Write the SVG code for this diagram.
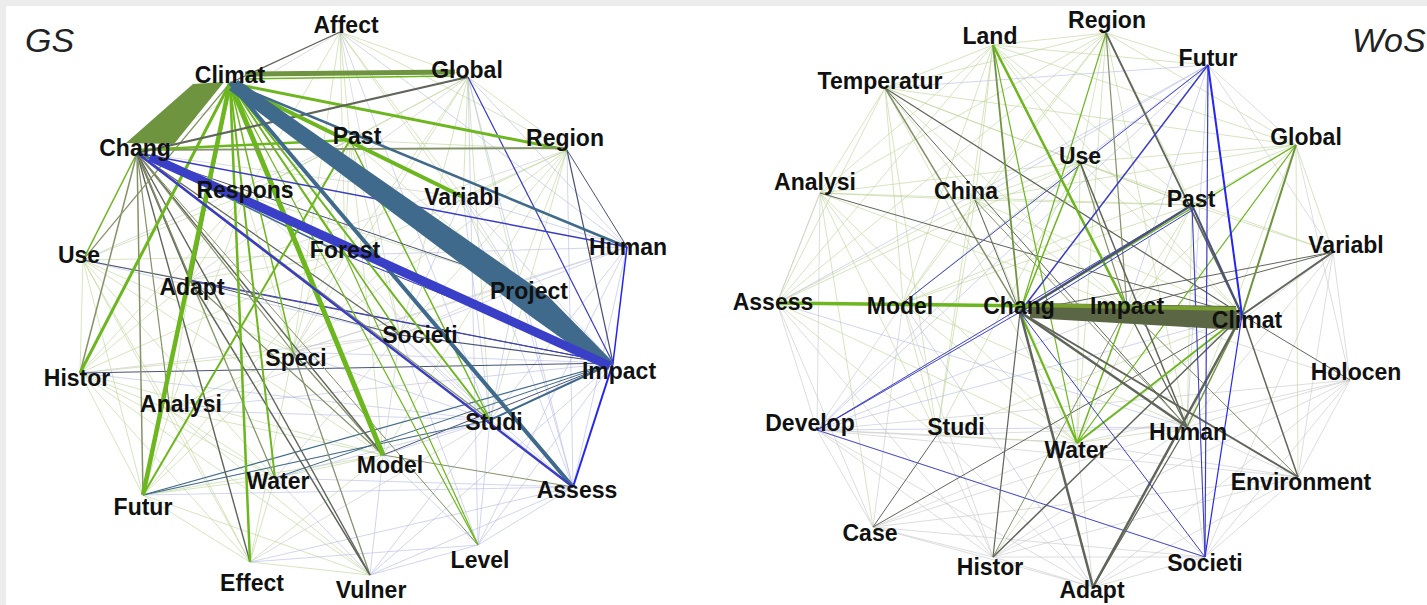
<svg xmlns="http://www.w3.org/2000/svg" width="1427" height="605" viewBox="0 0 1427 605">
<style>
.fg{stroke:#bfd69a;stroke-width:.8;fill:none;opacity:.8}
.fb{stroke:#b3b8e6;stroke-width:.8;fill:none;opacity:.75}
.fx{stroke:#c9c9c9;stroke-width:.8;fill:none;opacity:.8}
.g{stroke:#6cb61e}
.o{stroke:#6f9440}
.d{stroke:#60655a}
.go{stroke:#839268}
.s{stroke:#3f6a8c}
.b{stroke:#3a3cc2}
.bb{stroke:#2424f5}
.n{stroke:#4a5278}
.t{font-family:"Liberation Sans",Arial,sans-serif;font-weight:bold;font-size:23px;text-anchor:middle;fill:#111}
.ti{font-family:"Liberation Sans",Arial,sans-serif;font-style:italic;font-size:34px;fill:#222}
</style>
<rect width="1427" height="605" fill="#ececec"/>
<rect x="6" y="6" width="1421" height="599" fill="#fff"/>
<g id="connectors">
<g id="gs-edges">
<path class="fg" d="M340 32L468 77M340 32L350 140M340 32L463 197M340 32L345 255M340 32L567 150M340 32L517 283M340 32L293 352M340 32L245 195M468 77L567 150M468 77L463 197M468 77L350 140M468 77L345 255M468 77L517 283M468 77L400 335M468 77L490 420M468 77L293 352M468 77L245 195M567 150L463 197M567 150L517 283M567 150L400 335M567 150L490 420M567 150L345 255M567 150L350 140M567 150L293 352M567 150L383 455M350 140L345 255M350 140L245 195M350 140L400 335M350 140L517 283M350 140L293 352M350 140L383 455M245 195L345 255M245 195L83 260M245 195L80 373M245 195L190 280M245 195L293 352M245 195L170 410M245 195L517 283M83 260L80 373M83 260L190 280M83 260L170 410M83 260L143 495M83 260L293 352M83 260L275 478M83 260L345 255M80 373L170 410M80 373L143 495M80 373L190 280M80 373L275 478M80 373L293 352M80 373L250 562M80 373L383 455M170 410L143 495M170 410L275 478M170 410L293 352M170 410L250 562M170 410L383 455M170 410L370 575M143 495L275 478M143 495L250 562M143 495L370 575M143 495L383 455M143 495L293 352M250 562L275 478M250 562L370 575M250 562L383 455M250 562L293 352M190 280L293 352M190 280L345 255M190 280L275 478M190 280L170 410M383 455L275 478M383 455L293 352M83 260L250 562M80 373L370 575M143 495L345 255M83 260L383 455M80 373L345 255"/>
<path class="fb" d="M340 32L627 247M340 32L490 420M468 77L627 247M468 77L573 487M468 77L478 545M567 150L573 487M463 197L627 247M463 197L517 283M463 197L613 363M463 197L400 335M463 197L490 420M463 197L573 487M627 247L517 283M627 247L400 335M627 247L490 420M627 247L573 487M627 247L478 545M627 247L345 255M478 545L573 487M478 545L490 420M478 545L613 363M478 545L400 335M478 545L383 455M478 545L370 575M478 545L250 562M370 575L573 487M370 575L490 420M370 575L383 455M370 575L275 478M370 575L293 352M370 575L613 363M613 363L293 352M613 363L170 410M613 363L345 255M613 363L517 283M573 487L490 420M573 487L400 335M573 487L517 283M573 487L275 478M573 487L143 495M573 487L250 562M490 420L383 455M490 420L400 335M490 420L517 283M490 420L293 352M490 420L275 478M490 420L170 410M80 373L490 420M83 260L400 335"/>
<path class="fx" d="M340 32L137 153M340 32L400 335M468 77L190 280M567 150L190 280M350 140L83 260M463 197L137 153M463 197L293 352M627 247L293 352M517 283L293 352M517 283L400 335M400 335L293 352M400 335L383 455M400 335L275 478M345 255L293 352M345 255L400 335M345 255L490 420M80 373L400 335M170 410L400 335M143 495L490 420M250 562L490 420M190 280L383 455M83 260L613 363M245 195L400 335"/>
<line class="n" x1="83" y1="260" x2="613" y2="363" stroke-width="1"/>
<line class="n" x1="80" y1="373" x2="613" y2="363" stroke-width="1"/>
<line class="b" x1="190" y1="280" x2="613" y2="363" stroke-width="1"/>
<line class="b" x1="345" y1="255" x2="613" y2="363" stroke-width="1"/>
<line class="n" x1="400" y1="335" x2="613" y2="363" stroke-width="1.2"/>
<line class="s" x1="143" y1="495" x2="613" y2="363" stroke-width="1.2"/>
<line class="s" x1="275" y1="478" x2="613" y2="363" stroke-width="1"/>
<line class="n" x1="383" y1="455" x2="613" y2="363" stroke-width="1"/>
<line class="s" x1="143" y1="495" x2="490" y2="420" stroke-width="1"/>
<line class="go" x1="383" y1="455" x2="573" y2="487" stroke-width="1"/>
<line class="n" x1="190" y1="280" x2="400" y2="335" stroke-width="1"/>
<line class="n" x1="567" y1="150" x2="627" y2="247" stroke-width="1"/>
<line class="n" x1="567" y1="150" x2="613" y2="363" stroke-width="1.2"/>
<line class="b" x1="468" y1="77" x2="613" y2="363" stroke-width="1.2"/>
<line class="d" x1="190" y1="280" x2="370" y2="575" stroke-width="1.5"/>
<line class="go" x1="190" y1="280" x2="383" y2="455" stroke-width="1.2"/>
<line class="go" x1="293" y1="352" x2="370" y2="575" stroke-width="1.2"/>
<line class="go" x1="293" y1="352" x2="383" y2="455" stroke-width="1.2"/>
<line class="g" x1="345" y1="255" x2="478" y2="545" stroke-width="1.2"/>
<line class="g" x1="350" y1="140" x2="490" y2="420" stroke-width="1.5"/>
<line class="s" x1="517" y1="283" x2="613" y2="363" stroke-width="1.5"/>
<line class="d" x1="340" y1="32" x2="232" y2="82" stroke-width="1.3"/>
<line class="g" x1="137" y1="153" x2="83" y2="260" stroke-width="1.5"/>
<line class="go" x1="137" y1="153" x2="80" y2="373" stroke-width="1.5"/>
<line class="go" x1="137" y1="153" x2="143" y2="495" stroke-width="1.5"/>
<line class="d" x1="137" y1="153" x2="250" y2="562" stroke-width="1.4"/>
<line class="go" x1="137" y1="153" x2="170" y2="410" stroke-width="1.2"/>
<line class="d" x1="137" y1="153" x2="190" y2="280" stroke-width="2"/>
<line class="go" x1="137" y1="153" x2="275" y2="478" stroke-width="1.2"/>
<line class="d" x1="137" y1="153" x2="370" y2="575" stroke-width="1.4"/>
<line class="d" x1="137" y1="153" x2="383" y2="455" stroke-width="1.4"/>
<line class="go" x1="137" y1="153" x2="293" y2="352" stroke-width="1.2"/>
<line class="d" x1="137" y1="153" x2="400" y2="335" stroke-width="1.2"/>
<line class="go" x1="137" y1="153" x2="490" y2="420" stroke-width="1.2"/>
<line class="go" x1="137" y1="153" x2="478" y2="545" stroke-width="1"/>
<line class="s" x1="137" y1="153" x2="345" y2="255" stroke-width="1.5"/>
<line class="o" x1="137" y1="153" x2="245" y2="195" stroke-width="1.5"/>
<line class="n" x1="137" y1="153" x2="517" y2="283" stroke-width="1"/>
<line class="go" x1="230" y1="83" x2="83" y2="260" stroke-width="1.2"/>
<line class="g" x1="230" y1="83" x2="345" y2="255" stroke-width="1.5"/>
<line class="g" x1="230" y1="83" x2="400" y2="335" stroke-width="1.5"/>
<line class="g" x1="230" y1="83" x2="293" y2="352" stroke-width="1.5"/>
<line class="g" x1="230" y1="83" x2="478" y2="545" stroke-width="1.2"/>
<line class="g" x1="230" y1="83" x2="490" y2="420" stroke-width="2"/>
<line class="g" x1="230" y1="83" x2="275" y2="478" stroke-width="2"/>
<line class="g" x1="230" y1="83" x2="250" y2="562" stroke-width="2.5"/>
<line class="g" x1="350" y1="140" x2="143" y2="495" stroke-width="2"/>
<line class="g" x1="230" y1="83" x2="80" y2="373" stroke-width="3"/>
<line class="o" x1="230" y1="83" x2="190" y2="280" stroke-width="3"/>
<line class="g" x1="230" y1="83" x2="143" y2="495" stroke-width="4.5"/>
<line class="g" x1="230" y1="83" x2="383" y2="455" stroke-width="5"/>
<line class="g" x1="230" y1="83" x2="517" y2="283" stroke-width="3"/>
<line class="g" x1="230" y1="83" x2="567" y2="150" stroke-width="3"/>
<line class="go" x1="137" y1="150" x2="567" y2="148" stroke-width="1.8"/>
<line class="g" x1="137" y1="150" x2="350" y2="140" stroke-width="2.5"/>
<line class="d" x1="137" y1="153" x2="468" y2="77" stroke-width="2.2"/>
<line class="g" x1="230" y1="83" x2="463" y2="197" stroke-width="4"/>
<line class="s" x1="230" y1="83" x2="627" y2="247" stroke-width="2.5"/>
<line class="b" x1="137" y1="153" x2="627" y2="247" stroke-width="1.5"/>
<line class="o" x1="245" y1="74" x2="455" y2="72" stroke-width="5"/>
<line class="g" x1="245" y1="79" x2="452" y2="76" stroke-width="1.5"/>
<line class="bb" x1="627" y1="247" x2="613" y2="363" stroke-width="1.5"/>
<line class="bb" x1="613" y1="363" x2="573" y2="487" stroke-width="2"/>
<line class="s" x1="230" y1="83" x2="573" y2="487" stroke-width="4"/>
<line class="b" x1="137" y1="153" x2="573" y2="487" stroke-width="2.5"/>
<line class="s" x1="490" y1="420" x2="613" y2="363" stroke-width="2"/>
<polygon points="229,90 238,80 548,296 613,362 606,370 533,318" fill="#3f6a8c"/>
<line x1="150" y1="157" x2="610" y2="366" stroke="#3a3fc8" stroke-width="9"/>
<polygon points="193,84 224,82 174,144 126,143" fill="#6f9440"/>
</g>
<g id="wos-edges">
<path class="fg" d="M993 45L1106 33M993 45L885 88M993 45L1208 65M993 45L1080 162M993 45L975 200M993 45L820 193M993 45L1192 205M993 45L1296 145M993 45L777 303M993 45L903 303M993 45L937 435M993 45L1242 315M1106 33L885 88M1106 33L1208 65M1106 33L1080 162M1106 33L975 200M1106 33L1192 205M1106 33L1296 145M1106 33L820 193M1106 33L903 303M1106 33L777 303M1106 33L1077 443M1106 33L1187 427M885 88L820 193M885 88L975 200M885 88L1080 162M885 88L903 303M885 88L777 303M885 88L1127 308M885 88L1192 205M885 88L1077 443M885 88L937 435M885 88L1296 145M1296 145L1080 162M1296 145L1192 205M1296 145L1333 252M1296 145L1127 308M1296 145L1187 427M1296 145L903 303M1296 145L975 200M1296 145L1298 477M1080 162L975 200M1080 162L820 193M1080 162L1192 205M1080 162L903 303M1080 162L777 303M1080 162L937 435M1080 162L1077 443M1080 162L1333 252M820 193L975 200M820 193L777 303M820 193L903 303M820 193L937 435M820 193L873 527M820 193L1127 308M820 193L1192 205M820 193L1077 443M975 200L903 303M975 200L777 303M975 200L1192 205M975 200L1077 443M975 200L1127 308M975 200L937 435M1192 205L1333 252M1192 205L1127 308M1192 205L1077 443M1192 205L903 303M1192 205L1187 427M903 303L937 435M903 303L1077 443M777 303L937 435M903 303L1187 427M777 303L1077 443M1077 443L1187 427M1077 443L993 557M937 435L1077 443M1127 308L1187 427M1242 315L937 435M1242 315L903 303M1242 315L1080 162M1242 315L975 200M1242 315L1296 145"/>
<path class="fx" d="M1333 252L1350 380M1333 252L1187 427M1333 252L1298 477M1333 252L1077 443M1333 252L1205 557M1350 380L1298 477M1350 380L1187 427M1350 380L1127 308M1350 380L1205 557M1350 380L1077 443M1350 380L1093 587M1350 380L817 430M1350 380L993 557M1350 380L1296 145M817 430L937 435M817 430L873 527M817 430L993 557M817 430L1077 443M817 430L1093 587M817 430L1298 477M937 435L993 557M937 435L1093 587M937 435L1187 427M873 527L993 557M873 527L1093 587M873 527L1205 557M873 527L1077 443M873 527L1187 427M873 527L1298 477M993 557L1093 587M993 557L1205 557M993 557L1187 427M993 557L1298 477M1077 443L1205 557M1077 443L1093 587M1077 443L1298 477M1187 427L1298 477M1187 427L1205 557M1187 427L1093 587M1298 477L1205 557M1298 477L1093 587M1205 557L1093 587M777 303L817 430M777 303L873 527M777 303L993 557M903 303L817 430M903 303L873 527M903 303L993 557M820 193L817 430M820 193L777 303M1208 65L1296 145M1208 65L1333 252M1127 308L1298 477"/>
<path class="fb" d="M1208 65L1080 162M1208 65L885 88M1208 65L975 200M1208 65L1127 308M1208 65L903 303M1208 65L817 430M1208 65L1187 427M1208 65L777 303M817 430L1020 312M817 430L1192 205M817 430L1127 308M817 430L1242 315M817 430L1080 162M817 430L1205 557M817 430L1187 427M903 303L1093 587M777 303L1187 427M1192 205L1205 557"/>
<line class="b" x1="817" y1="430" x2="1020" y2="312" stroke-width=".9"/>
<line class="b" x1="817" y1="430" x2="1192" y2="205" stroke-width=".9"/>
<line class="b" x1="817" y1="430" x2="1205" y2="557" stroke-width=".9"/>
<line class="b" x1="903" y1="303" x2="1208" y2="65" stroke-width=".9"/>
<line class="d" x1="873" y1="527" x2="937" y2="435" stroke-width="1"/>
<line class="d" x1="873" y1="527" x2="1242" y2="315" stroke-width="1"/>
<line class="d" x1="993" y1="557" x2="1020" y2="312" stroke-width="1.2"/>
<line class="go" x1="993" y1="557" x2="1127" y2="308" stroke-width="1"/>
<line class="d" x1="1350" y1="380" x2="1242" y2="315" stroke-width="1"/>
<line class="d" x1="1333" y1="252" x2="1020" y2="312" stroke-width="1"/>
<line class="d" x1="1333" y1="252" x2="1127" y2="308" stroke-width="1"/>
<line class="d" x1="1093" y1="587" x2="1187" y2="427" stroke-width="1.2"/>
<line class="go" x1="1127" y1="308" x2="1298" y2="477" stroke-width="1"/>
<line class="d" x1="885" y1="88" x2="1242" y2="315" stroke-width="1.2"/>
<line class="go" x1="885" y1="88" x2="1020" y2="312" stroke-width="1.5"/>
<line class="d" x1="885" y1="88" x2="1187" y2="427" stroke-width="1"/>
<line class="d" x1="820" y1="193" x2="1242" y2="315" stroke-width="1"/>
<line class="g" x1="1296" y1="145" x2="1020" y2="312" stroke-width="1.2"/>
<line class="g" x1="1296" y1="145" x2="1077" y2="443" stroke-width="1.2"/>
<line class="g" x1="1106" y1="33" x2="1020" y2="312" stroke-width="1.2"/>
<line class="go" x1="1106" y1="33" x2="1127" y2="308" stroke-width="1.2"/>
<line class="d" x1="975" y1="200" x2="1020" y2="312" stroke-width="1"/>
<line class="go" x1="975" y1="200" x2="1187" y2="427" stroke-width="1"/>
<line class="g" x1="1080" y1="162" x2="1020" y2="312" stroke-width="1.5"/>
<line class="go" x1="1080" y1="162" x2="1127" y2="308" stroke-width="1.2"/>
<line class="d" x1="1080" y1="162" x2="1187" y2="427" stroke-width="1.5"/>
<line class="g" x1="993" y1="45" x2="1077" y2="443" stroke-width="1.2"/>
<line class="d" x1="993" y1="45" x2="1187" y2="427" stroke-width="1.2"/>
<line class="o" x1="993" y1="45" x2="1020" y2="312" stroke-width="1.8"/>
<line class="g" x1="993" y1="45" x2="1127" y2="308" stroke-width="2.5"/>
<line class="d" x1="1106" y1="33" x2="1242" y2="315" stroke-width="1.8"/>
<line class="o" x1="1296" y1="145" x2="1242" y2="315" stroke-width="2"/>
<line class="d" x1="1333" y1="252" x2="1242" y2="315" stroke-width="2"/>
<line class="n" x1="1192" y1="205" x2="1242" y2="315" stroke-width="2"/>
<line class="g" x1="1020" y1="312" x2="1077" y2="443" stroke-width="2"/>
<line class="g" x1="1242" y1="315" x2="1077" y2="443" stroke-width="2"/>
<line class="g" x1="1127" y1="308" x2="1077" y2="443" stroke-width="1.5"/>
<line class="o" x1="1242" y1="315" x2="1187" y2="427" stroke-width="1.5"/>
<line class="d" x1="1242" y1="315" x2="993" y2="557" stroke-width="1.5"/>
<line class="d" x1="1242" y1="315" x2="1298" y2="477" stroke-width="1.5"/>
<line class="d" x1="1020" y1="312" x2="1298" y2="477" stroke-width="2"/>
<line class="d" x1="1020" y1="312" x2="1187" y2="427" stroke-width="2.5"/>
<line class="d" x1="1020" y1="312" x2="1093" y2="587" stroke-width="2.5"/>
<line class="d" x1="1242" y1="315" x2="1093" y2="587" stroke-width="2.5"/>
<line class="b" x1="1020" y1="312" x2="1205" y2="557" stroke-width="1"/>
<line class="bb" x1="1242" y1="315" x2="1205" y2="557" stroke-width="1.2"/>
<line class="b" x1="1208" y1="65" x2="1205" y2="557" stroke-width="1.2"/>
<line class="b" x1="1192" y1="205" x2="1205" y2="557" stroke-width="1"/>
<line class="b" x1="1020" y1="312" x2="1208" y2="65" stroke-width="1.5"/>
<line class="bb" x1="1208" y1="65" x2="1242" y2="315" stroke-width="2"/>
<line class="b" x1="1024" y1="314" x2="1194" y2="209" stroke-width="1"/>
<line class="n" x1="1020" y1="312" x2="1192" y2="205" stroke-width="2.5"/>
<polygon points="1030,303 1236,306 1238,330 1030,318" fill="#5b6644"/>
<line x1="1030" y1="305" x2="1236" y2="309" stroke="#7aa232" stroke-width="4"/>
<line class="g" x1="777" y1="303" x2="1030" y2="306" stroke-width="3.5"/>
<line class="g" x1="903" y1="304" x2="1030" y2="306" stroke-width="2"/>
</g>
</g>
<text class="ti" x="25" y="52">GS</text>
<text class="ti" x="1352" y="52">WoS</text>
<g id="gs-nodes">
<g id="gs-affect"><text class="t" x="346" y="33">Affect</text></g>
<g id="gs-climat"><text class="t" x="230" y="83">Climat</text></g>
<g id="gs-global"><text class="t" x="467" y="78">Global</text></g>
<g id="gs-chang"><text class="t" x="135" y="156">Chang</text></g>
<g id="gs-past"><text class="t" x="357" y="144">Past</text></g>
<g id="gs-region"><text class="t" x="565" y="146">Region</text></g>
<g id="gs-respons"><text class="t" x="245" y="198">Respons</text></g>
<g id="gs-variabl"><text class="t" x="462" y="205">Variabl</text></g>
<g id="gs-use"><text class="t" x="79" y="263">Use</text></g>
<g id="gs-forest"><text class="t" x="345" y="258">Forest</text></g>
<g id="gs-human"><text class="t" x="628" y="255">Human</text></g>
<g id="gs-adapt"><text class="t" x="192" y="295">Adapt</text></g>
<g id="gs-project"><text class="t" x="529" y="299">Project</text></g>
<g id="gs-societi"><text class="t" x="420" y="343">Societi</text></g>
<g id="gs-speci"><text class="t" x="296" y="366">Speci</text></g>
<g id="gs-histor"><text class="t" x="77" y="386">Histor</text></g>
<g id="gs-impact"><text class="t" x="619" y="379">Impact</text></g>
<g id="gs-analysi"><text class="t" x="181" y="412">Analysi</text></g>
<g id="gs-studi"><text class="t" x="494" y="430">Studi</text></g>
<g id="gs-model"><text class="t" x="390" y="473">Model</text></g>
<g id="gs-water"><text class="t" x="278" y="489">Water</text></g>
<g id="gs-assess"><text class="t" x="577" y="498">Assess</text></g>
<g id="gs-futur"><text class="t" x="143" y="515">Futur</text></g>
<g id="gs-effect"><text class="t" x="252" y="591">Effect</text></g>
<g id="gs-level"><text class="t" x="480" y="568">Level</text></g>
<g id="gs-vulner"><text class="t" x="371" y="598">Vulner</text></g>
</g>
<g id="wos-nodes">
<g id="wos-land"><text class="t" x="990" y="44">Land</text></g>
<g id="wos-region"><text class="t" x="1107" y="28">Region</text></g>
<g id="wos-futur"><text class="t" x="1208" y="66">Futur</text></g>
<g id="wos-temperatur"><text class="t" x="880" y="89">Temperatur</text></g>
<g id="wos-global"><text class="t" x="1306" y="145">Global</text></g>
<g id="wos-use"><text class="t" x="1080" y="164">Use</text></g>
<g id="wos-analysi"><text class="t" x="815" y="190">Analysi</text></g>
<g id="wos-china"><text class="t" x="966" y="199">China</text></g>
<g id="wos-past"><text class="t" x="1191" y="207">Past</text></g>
<g id="wos-variabl"><text class="t" x="1346" y="253">Variabl</text></g>
<g id="wos-assess"><text class="t" x="773" y="310">Assess</text></g>
<g id="wos-model"><text class="t" x="900" y="314">Model</text></g>
<g id="wos-chang"><text class="t" x="1019" y="314">Chang</text></g>
<g id="wos-impact"><text class="t" x="1127" y="314">Impact</text></g>
<g id="wos-climat"><text class="t" x="1247" y="328">Climat</text></g>
<g id="wos-holocen"><text class="t" x="1356" y="380">Holocen</text></g>
<g id="wos-develop"><text class="t" x="810" y="431">Develop</text></g>
<g id="wos-studi"><text class="t" x="956" y="435">Studi</text></g>
<g id="wos-water"><text class="t" x="1076" y="458">Water</text></g>
<g id="wos-human"><text class="t" x="1188" y="440">Human</text></g>
<g id="wos-environment"><text class="t" x="1301" y="490">Environment</text></g>
<g id="wos-case"><text class="t" x="870" y="541">Case</text></g>
<g id="wos-histor"><text class="t" x="990" y="575">Histor</text></g>
<g id="wos-societi"><text class="t" x="1205" y="571">Societi</text></g>
<g id="wos-adapt"><text class="t" x="1092" y="598">Adapt</text></g>
</g>
</svg>
